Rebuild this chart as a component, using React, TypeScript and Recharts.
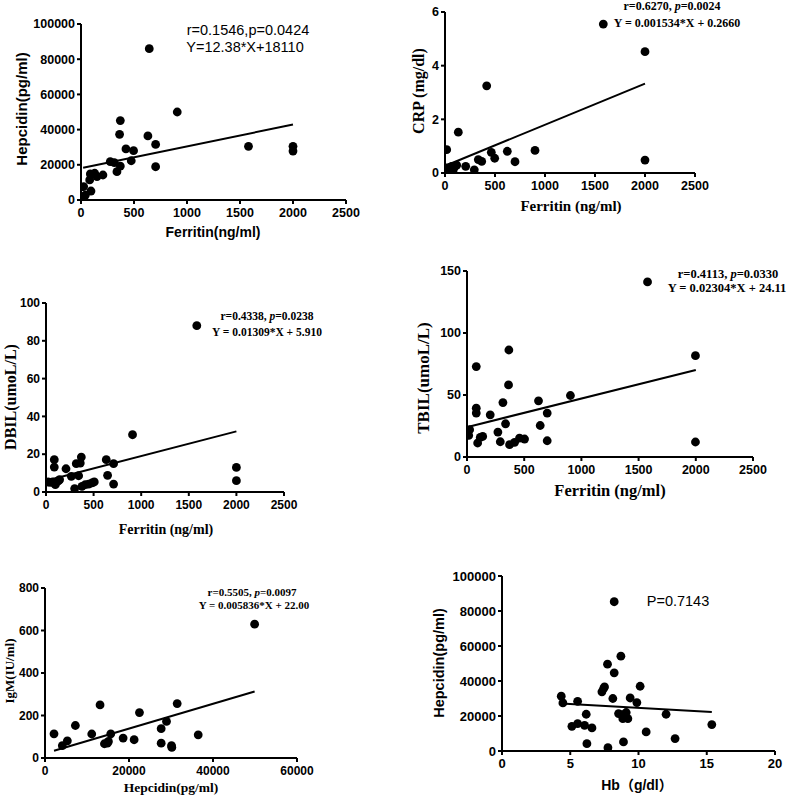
import React from 'react';
import { Label, ReferenceLine, Scatter, ScatterChart, XAxis, YAxis } from 'recharts';

const SANS = '"Liberation Sans", Arial, "Noto Sans CJK SC", sans-serif';
const SERIF = '"Liberation Serif", "Times New Roman", serif';

// Ferritin vs Hepcidin
const ferritinA = [15, 41, 25, 94, 82, 88, 129, 151, 207, 276, 314, 339, 371, 364, 371, 424, 474, 496, 631, 644, 704, 704, 908, 1580, 2000, 2000];
const hepcidinA = [1500, 2800, 7600, 5100, 11400, 14800, 15200, 13300, 14200, 21800, 21200, 16100, 19300, 37300, 45100, 29000, 22300, 28000, 36400, 86000, 31600, 18900, 50000, 30500, 30500, 27800];
const fitA = { x: [20, 2000], y: [18350, 42870] };

// Ferritin vs CRP
const ferritinB = [17, 17, 43, 67, 83, 100, 117, 133, 207, 293, 333, 367, 417, 463, 497, 623, 700, 900, 1583, 2000, 2000];
const crp = [0.87, 0.19, 0.19, 0.25, 0.12, 0.25, 0.29, 1.52, 0.25, 0.12, 0.5, 0.43, 3.25, 0.77, 0.55, 0.81, 0.42, 0.84, 5.55, 4.52, 0.48];
const fitB = { x: [17, 2000], y: [0.29, 3.33] };

// Ferritin vs DBIL
const ferritinC = [21, 45, 70, 87, 87, 98, 115, 133, 143, 210, 266, 301, 318, 343, 360, 371, 378, 413, 448, 483, 507, 633, 647, 710, 710, 909, 1584, 2000, 2000];
const dbil = [5.3, 5.1, 5.3, 13.2, 17.1, 3.9, 5.3, 6.0, 6.5, 12.3, 8.3, 1.8, 15, 8.6, 15.3, 18.5, 3, 3.9, 4.2, 4.8, 5.3, 17.1, 8.8, 15, 4.2, 30.3, 88, 13, 6];
const fitC = { x: [10, 2000], y: [6.04, 32.09] };

// Ferritin vs TBIL
const ferritinD = [15, 23, 81, 81, 81, 93, 116, 137, 203, 270, 291, 314, 337, 363, 366, 372, 416, 459, 503, 625, 640, 701, 701, 904, 1578, 1997, 1997];
const tbil = [17.4, 22, 72.9, 39.4, 35.4, 11.3, 15.8, 16.6, 34, 20.1, 12.3, 43.9, 26.8, 58.1, 86.3, 9.9, 11.8, 15.3, 14.5, 45.3, 25.4, 35.4, 13.1, 49.6, 141.2, 81.7, 12.1];
const fitD = { x: [15, 2000], y: [24.46, 70.19] };

// Hepcidin vs IgM
const hepcidinE = [2146, 4130, 5320, 7230, 11130, 13110, 14150, 14860, 15100, 15660, 18600, 21220, 22490, 27660, 27660, 28930, 30120, 30200, 31470, 36480, 49910];
const igm = [114, 58, 81, 153, 113, 250, 67, 70, 78, 114, 94, 86, 214, 138, 70, 172, 58, 50, 256, 109, 630];
const fitE = { x: [2146, 49910], y: [34.5, 313.3] };

// Hb vs Hepcidin
const hb = [4.34, 4.46, 5.12, 5.54, 5.54, 6.05, 6.17, 6.22, 6.59, 7.32, 7.44, 7.51, 7.73, 7.76, 8.12, 8.22, 8.22, 8.54, 8.71, 8.83, 8.85, 8.9, 9.1, 9.22, 9.39, 9.88, 10.12, 10.56, 12.02, 12.68, 15.37];
const hepcidinF = [31300, 27500, 14100, 15600, 28400, 14700, 21000, 4200, 13200, 33800, 35700, 36600, 49600, 1900, 30000, 44700, 85300, 21400, 54200, 20800, 18500, 5200, 22000, 18500, 30300, 27700, 37000, 10900, 21000, 7100, 15100];
const fitF = { x: [4.34, 15.37], y: [27100, 22300] };

const ferritinTicks = [0, 500, 1000, 1500, 2000, 2500];

interface Note {
  text: React.ReactNode;
  x: number;
  y: number;
  size: number;
  font: string;
  bold?: boolean;
  rotate?: boolean;
}

interface PanelProps {
  box: { x: number; y: number; w: number; h: number };
  plot: { left: number; right: number; top: number; bottom: number };
  xs: number[];
  ys: number[];
  fit: { x: number[]; y: number[] };
  xDomain: [number, number];
  xTicks: number[];
  yDomain: [number, number];
  yTicks: number[];
  tickSize: number;
  notes: Note[];
}

const axisStyle = { stroke: '#000', strokeWidth: 2 };

const dot = (props: any) => <circle cx={props.cx} cy={props.cy} r={4.4} fill="#000" />;

const Panel = (p: PanelProps) => {
  const { box, plot } = p;
  const data = p.xs.map((x, i) => ({ x, y: p.ys[i] }));
  const tick = { fill: '#000', fontSize: p.tickSize, fontWeight: 700, fontFamily: SANS };

  const overlay = () => (
    <g>
      {p.notes.map((t, i) => {
        const tx = t.x - box.x;
        const ty = t.y - box.y;
        return (
          <text
            key={i}
            x={tx}
            y={ty}
            textAnchor="middle"
            dominantBaseline="central"
            fontFamily={t.font}
            fontSize={t.size}
            fontWeight={t.bold ? 700 : 400}
            fill="#000"
            transform={t.rotate ? `rotate(-90 ${tx} ${ty})` : undefined}
          >
            {t.text}
          </text>
        );
      })}
    </g>
  );

  return (
    <div style={{ position: 'absolute', left: box.x, top: box.y }}>
      <ScatterChart
        width={box.w}
        height={box.h}
        margin={{ top: plot.top - box.y, right: box.x + box.w - plot.right, bottom: 0, left: 0 }}
      >
        <XAxis
          type="number"
          dataKey="x"
          domain={p.xDomain}
          ticks={p.xTicks}
          interval={0}
          allowDataOverflow
          height={box.y + box.h - plot.bottom}
          axisLine={axisStyle}
          tickLine={axisStyle}
          tickSize={4}
          tickMargin={4}
          tick={tick}
          label={<Label content={overlay} />}
        />
        <YAxis
          type="number"
          dataKey="y"
          domain={p.yDomain}
          ticks={p.yTicks}
          interval={0}
          allowDataOverflow
          width={plot.left - box.x}
          axisLine={axisStyle}
          tickLine={axisStyle}
          tickSize={4}
          tickMargin={2}
          tick={tick}
        />
        <ReferenceLine
          segment={[
            { x: p.fit.x[0], y: p.fit.y[0] },
            { x: p.fit.x[1], y: p.fit.y[1] },
          ]}
          stroke="#000"
          strokeWidth={2}
          ifOverflow="visible"
        />
        <Scatter data={data} fill="#000" shape={dot} isAnimationActive={false} />
      </ScatterChart>
    </div>
  );
};

const italicP = (a: string, b: string) => (
  <>
    {a}
    <tspan fontStyle="italic">p</tspan>
    {b}
  </>
);

export default function App() {
  return (
    <div style={{ position: 'absolute', left: 0, top: 0, width: 800, height: 797, background: '#fff' }}>
      <Panel
        box={{ x: 0, y: 0, w: 400, h: 250 }}
        plot={{ left: 81, right: 346, top: 24, bottom: 200 }}
        xs={ferritinA}
        ys={hepcidinA}
        fit={fitA}
        xDomain={[0, 2500]}
        xTicks={ferritinTicks}
        yDomain={[0, 100000]}
        yTicks={[0, 20000, 40000, 60000, 80000, 100000]}
        tickSize={12.5}
        notes={[
          { text: 'Hepcidin(pg/ml)', x: 21, y: 109, size: 15, font: SANS, bold: true, rotate: true },
          { text: 'Ferritin(ng/ml)', x: 213, y: 232, size: 14, font: SANS, bold: true },
          { text: 'r=0.1546,p=0.0424', x: 248, y: 30, size: 14.5, font: SANS },
          { text: 'Y=12.38*X+18110', x: 245, y: 47, size: 14.5, font: SANS },
        ]}
      />
      <Panel
        box={{ x: 400, y: 0, w: 400, h: 250 }}
        plot={{ left: 445, right: 695, top: 12, bottom: 173 }}
        xs={ferritinB}
        ys={crp}
        fit={fitB}
        xDomain={[0, 2500]}
        xTicks={ferritinTicks}
        yDomain={[0, 6]}
        yTicks={[0, 2, 4, 6]}
        tickSize={12.5}
        notes={[
          { text: 'CRP (mg/dl)', x: 418, y: 91, size: 16, font: SERIF, bold: true, rotate: true },
          { text: 'Ferritin (ng/ml)', x: 571, y: 206, size: 15, font: SERIF, bold: true },
          { text: italicP('r=0.6270, ', '=0.0024'), x: 672, y: 6, size: 12, font: SERIF, bold: true },
          { text: 'Y = 0.001534*X + 0.2660', x: 677, y: 23, size: 12, font: SERIF, bold: true },
        ]}
      />
      <Panel
        box={{ x: 0, y: 250, w: 400, h: 290 }}
        plot={{ left: 46, right: 284, top: 303, bottom: 492 }}
        xs={ferritinC}
        ys={dbil}
        fit={fitC}
        xDomain={[0, 2500]}
        xTicks={ferritinTicks}
        yDomain={[0, 100]}
        yTicks={[0, 20, 40, 60, 80, 100]}
        tickSize={12}
        notes={[
          { text: 'DBIL(umoL/L)', x: 10, y: 397, size: 16, font: SERIF, bold: true, rotate: true },
          { text: 'Ferritin (ng/ml)', x: 166, y: 529, size: 14, font: SERIF, bold: true },
          { text: italicP('r=0.4338, ', '=0.0238'), x: 267, y: 316, size: 11.5, font: SERIF, bold: true },
          { text: 'Y = 0.01309*X + 5.910', x: 267, y: 332, size: 11.5, font: SERIF, bold: true },
        ]}
      />
      <Panel
        box={{ x: 400, y: 250, w: 400, h: 290 }}
        plot={{ left: 467, right: 753, top: 271, bottom: 457 }}
        xs={ferritinD}
        ys={tbil}
        fit={fitD}
        xDomain={[0, 2500]}
        xTicks={ferritinTicks}
        yDomain={[0, 150]}
        yTicks={[0, 50, 100, 150]}
        tickSize={12.5}
        notes={[
          { text: 'TBIL(umoL/L)', x: 423, y: 378, size: 17, font: SERIF, bold: true, rotate: true },
          { text: 'Ferritin (ng/ml)', x: 610, y: 490, size: 16.5, font: SERIF, bold: true },
          { text: italicP('r=0.4113, ', '=0.0330'), x: 728, y: 274, size: 12.5, font: SERIF, bold: true },
          { text: 'Y = 0.02304*X + 24.11', x: 727, y: 288, size: 12.5, font: SERIF, bold: true },
        ]}
      />
      <Panel
        box={{ x: 0, y: 540, w: 400, h: 257 }}
        plot={{ left: 45, right: 297, top: 588, bottom: 758 }}
        xs={hepcidinE}
        ys={igm}
        fit={fitE}
        xDomain={[0, 60000]}
        xTicks={[0, 20000, 40000, 60000]}
        yDomain={[0, 800]}
        yTicks={[0, 200, 400, 600, 800]}
        tickSize={12}
        notes={[
          { text: 'IgM(IU/ml)', x: 9, y: 671, size: 13, font: SERIF, bold: true, rotate: true },
          { text: 'Hepcidin(pg/ml)', x: 171, y: 787, size: 13.5, font: SERIF, bold: true },
          { text: italicP('r=0.5505, ', '=0.0097'), x: 252, y: 592, size: 11, font: SERIF, bold: true },
          { text: 'Y = 0.005836*X + 22.00', x: 254, y: 605, size: 11, font: SERIF, bold: true },
        ]}
      />
      <Panel
        box={{ x: 400, y: 540, w: 400, h: 257 }}
        plot={{ left: 502, right: 775, top: 576, bottom: 751 }}
        xs={hb}
        ys={hepcidinF}
        fit={fitF}
        xDomain={[0, 20]}
        xTicks={[0, 5, 10, 15, 20]}
        yDomain={[0, 100000]}
        yTicks={[0, 20000, 40000, 60000, 80000, 100000]}
        tickSize={13}
        notes={[
          { text: 'Hepcidin(pg/ml)', x: 439, y: 663, size: 14.5, font: SANS, bold: true, rotate: true },
          { text: 'Hb（g/dl）', x: 637, y: 785, size: 14, font: SANS, bold: true },
          { text: 'P=0.7143', x: 678, y: 601, size: 14.5, font: SANS },
        ]}
      />
    </div>
  );
}
